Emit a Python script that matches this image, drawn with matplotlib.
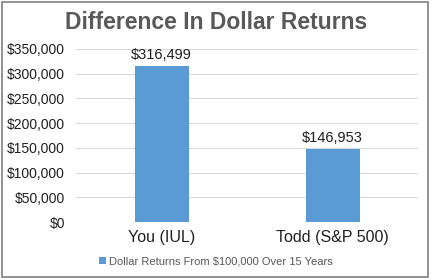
import numpy as np
import matplotlib
matplotlib.use("Agg")
from matplotlib import pyplot as plt
from matplotlib.patches import Rectangle

plt.rcParams['font.family'] = ['Liberation Sans', 'DejaVu Sans']

# данные графика
categories = ["You (IUL)", "Todd (S&P 500)"]
values = [316499, 146953]
series_name = "Dollar Returns From $100,000 Over 15 Years"
yticks = [0, 50000, 100000, 150000, 200000, 250000, 300000, 350000]

bar_color = "#5B9BD5"

fig = plt.figure(figsize=(4.32, 2.80), dpi=100)
ax = fig.add_axes([0.176, 0.207, 0.792, 0.618])

x = np.arange(len(categories))
bars = ax.bar(x, values, width=0.316, color=bar_color, label=series_name, zorder=3)

ax.set_xlim(-0.5, len(categories) - 0.5)
ax.set_ylim(0, 350000)
ax.set_yticks(yticks)
ax.set_yticklabels(["${:,}".format(v) for v in yticks], fontsize=10, color="#202020")
ax.set_xticks(x)
ax.set_xticklabels(categories, fontsize=11.5, color="#202020")
ax.tick_params(axis='both', length=0)
ax.tick_params(axis='y', pad=8)
ax.tick_params(axis='x', pad=6)

ax.grid(axis='y', color="#D9D9D9", linewidth=0.8, zorder=0)
for s in ax.spines.values():
    s.set_visible(False)

# подписи значений над столбиками
for b, v in zip(bars, values):
    ax.text(b.get_x() + b.get_width() / 2, v + 8000, "${:,}".format(v),
            ha='center', va='bottom', fontsize=10.5, color="#202020")

fig.text(0.5, 0.918, "Difference In Dollar Returns", ha='center', va='center',
         fontsize=16.5, fontweight='bold', color="#595959")

fig.legend(handles=[bars], labels=[series_name], loc='center',
           bbox_to_anchor=(0.5, 0.065), frameon=False, fontsize=8,
           labelcolor="#595959", handlelength=0.6, handleheight=0.6,
           handletextpad=0.3)

# рамка вокруг рисунка
fig.patches.append(Rectangle((2 / 432, 3 / 280), 426 / 432, 275 / 280,
                             transform=fig.transFigure, fill=False,
                             edgecolor="#808080", linewidth=1.2))

fig.savefig("out.png", dpi=100)
